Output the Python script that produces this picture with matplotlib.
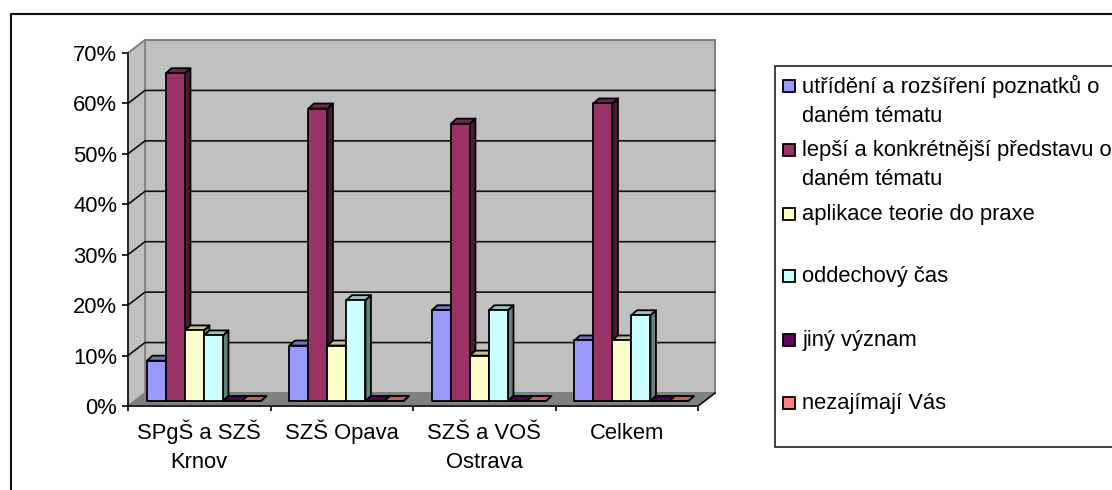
import matplotlib
matplotlib.use('Agg')
import matplotlib.pyplot as plt
from matplotlib.patches import Polygon, Rectangle
from matplotlib.colors import to_rgb

plt.rcParams['font.family'] = ['Liberation Sans', 'DejaVu Sans']

categories = ['SPgŠ a SZŠ\nKrnov', 'SZŠ Opava', 'SZŠ a VOŠ\nOstrava', 'Celkem']
krnov = [8, 65, 14, 13, 0, 0]
opava = [11, 58, 11, 20, 0, 0]
ostrava = [18, 55, 9, 18, 0, 0]
celkem = [12, 59, 12, 17, 0, 0]
groups = [krnov, opava, ostrava, celkem]
series_names = ['utřídění a rozšíření poznatků o\ndaném tématu',
                'lepší a konkrétnější představu o\ndaném tématu',
                'aplikace teorie do praxe',
                'oddechový čas',
                'jiný význam',
                'nezajímají Vás']
colors = ['#9999FF', '#993366', '#FFFFCC', '#CCFFFF', '#660066', '#FF8080']
legend_y = [101, 165, 214, 276, 340, 403]
yticks = [0, 10, 20, 30, 40, 50, 60, 70]
font_size = 15.8

W, H = 1112, 490
fig = plt.figure(figsize=(W / 100, H / 100), dpi=100, facecolor='white')

# pixel overlay for the outer frame and the legend
bg = fig.add_axes([0, 0, 1, 1])
bg.set_xlim(0, W)
bg.set_ylim(H, 0)
bg.axis('off')
bg.plot([10.5, 10.5, W], [H, 14.5, 14.5], color='#111111', lw=1.5, solid_joinstyle='miter')
bg.plot([W, 774.5, 774.5, W], [66, 66, 447, 447], color='#111111', lw=1.1, solid_joinstyle='miter')

for name, col, y in zip(series_names, colors, legend_y):
    my = y - 15 if '\n' in name else y
    bg.add_patch(Rectangle((783, my - 6), 12, 12, fc=col, ec='black', lw=1.3))
    bg.text(802, y, name, fontsize=font_size, va='center', ha='left', linespacing=1.5, color='black')

# chart axes = front plane of the 3D box
left, right, top, bottom = 128, 698, 53, 406
ax = fig.add_axes([left / W, 1 - bottom / H, (right - left) / W, (bottom - top) / H])
ax.set_xlim(0, 4)
ax.set_ylim(0, 70)
ax.patch.set_visible(False)

px_x = 4 / (right - left)
px_y = 70 / (bottom - top)


def shift(x, y, dx, dy):
    return (x + dx * px_x, y + dy * px_y)


def shade(col, f):
    return tuple(c * f for c in to_rgb(col))


wall_dx, wall_dy = 17, 13
# back wall, left wall and floor
ax.add_patch(Polygon([shift(0, 0, wall_dx, wall_dy), shift(4, 0, wall_dx, wall_dy),
                      shift(4, 70, wall_dx, wall_dy), shift(0, 70, wall_dx, wall_dy)],
                     fc='#C0C0C0', ec='#808080', lw=1.5, clip_on=False, zorder=1))
ax.add_patch(Polygon([(0, 0), shift(0, 0, wall_dx, wall_dy), shift(0, 70, wall_dx, wall_dy), (0, 70)],
                     fc='#C0C0C0', ec='#808080', lw=1.2, clip_on=False, zorder=1))
ax.add_patch(Polygon([(0, 0), (4, 0), shift(4, 0, wall_dx, wall_dy), shift(0, 0, wall_dx, wall_dy)],
                     fc='#808080', ec='#808080', lw=1, clip_on=False, zorder=1))

# gridlines
for v in yticks[1:-1]:
    bx, by = shift(0, v, wall_dx, wall_dy)
    ex, ey = shift(4, v, wall_dx, wall_dy)
    ax.plot([0, bx, ex], [v, by, ey], color='#111111', lw=1.2, clip_on=False, zorder=2)
bx, by = shift(4, 0, wall_dx, wall_dy)
ax.plot([4, bx], [0, by], color='#111111', lw=1.2, clip_on=False, zorder=2)
bx, by = shift(0, 70, wall_dx, wall_dy)
ax.plot([0, bx], [70, by], color='#808080', lw=1.2, clip_on=False, zorder=2)

# bars
gap = 0.1
bar_w = (1 - 2 * gap) / 6
off_x, off_y = 4.7, 5
dep_x, dep_y = 5.5, 5
for i, vals in enumerate(groups):
    for j, v in enumerate(vals):
        x0 = i + gap + j * bar_w
        x1 = x0 + bar_w
        a = shift(x0, 0, off_x, off_y)
        b = shift(x1, 0, off_x, off_y)
        c = shift(x1, v, off_x, off_y)
        d = shift(x0, v, off_x, off_y)
        c2 = shift(x1, v, off_x + dep_x, off_y + dep_y)
        d2 = shift(x0, v, off_x + dep_x, off_y + dep_y)
        b2 = shift(x1, 0, off_x + dep_x, off_y + dep_y)
        kw = dict(ec='black', lw=1.3, clip_on=False, zorder=3, joinstyle='round')
        ax.add_patch(Polygon([b, b2, c2, c], fc=shade(colors[j], 0.5), **kw))
        ax.add_patch(Polygon([d, c, c2, d2], fc=shade(colors[j], 0.75), **kw))
        ax.add_patch(Polygon([a, b, c, d], fc=colors[j], **kw))

# axes
for s in ['top', 'right']:
    ax.spines[s].set_visible(False)
for s in ['left', 'bottom']:
    ax.spines[s].set_linewidth(1.2)
    ax.spines[s].set_color('#111111')
    ax.spines[s].set_zorder(4)

ax.set_yticks(yticks)
ax.set_yticklabels([str(v) + '%' for v in yticks], fontsize=font_size)
ax.tick_params(axis='y', length=4.3, width=1.2, pad=3.5)
ax.set_xticks(range(5))
ax.set_xticklabels([])
ax.tick_params(axis='x', which='major', length=3.6, width=1.2)

# category labels line by line, on a shared baseline
for i, cat in enumerate(categories):
    for k, line in enumerate(cat.split('\n')):
        ax.annotate(line, xy=(i + 0.5, 0), xytext=(0, -33 - 29 * k), textcoords='offset pixels',
                    ha='center', va='baseline', fontsize=font_size, annotation_clip=False)

fig.savefig('out.png', dpi=100, facecolor='white')
